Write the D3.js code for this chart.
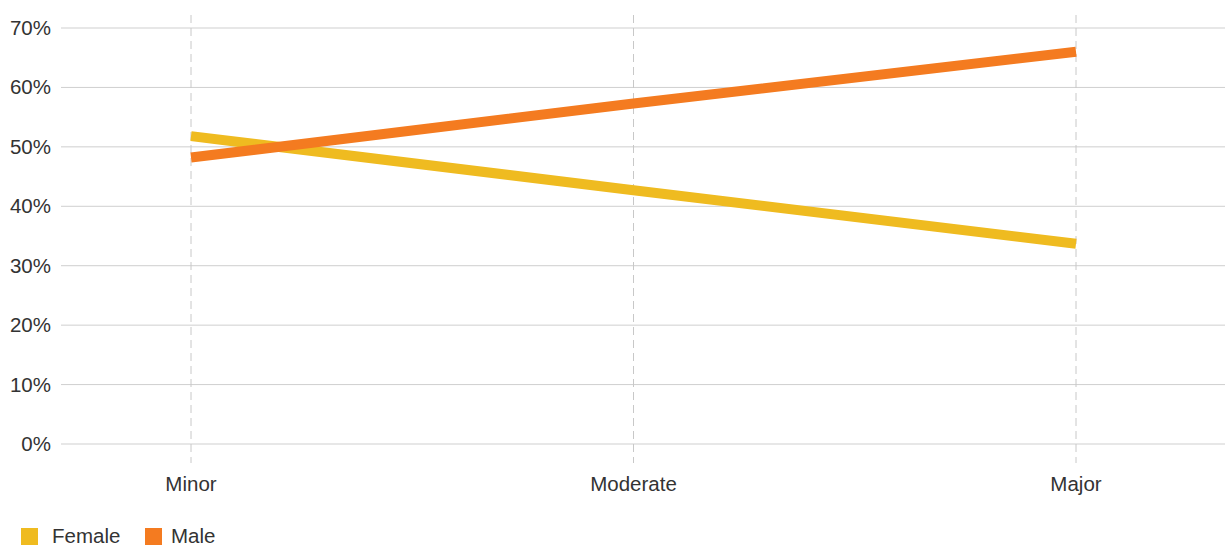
<!DOCTYPE html>
<html><head><meta charset="utf-8">
<script src="https://cdn.jsdelivr.net/npm/d3@7"></script>
<style>
body{margin:0;background:#fff;}
text{font-family:"Liberation Sans","Helvetica Neue",Arial,sans-serif;fill:#333;}
</style></head>
<body><svg id="c" width="1225" height="546"></svg>
<script>
const categories = ["Minor","Moderate","Major"];
const female = [51.8, 42.7, 33.7];
const male = [48.2, 57.3, 66.0];
const yTicks = [0,10,20,30,40,50,60,70];
const seriesNames = ["Female","Male"];
const colors = ["#EFBB20","#F47B20"];

const svg = d3.select("#c");
const x = d3.scalePoint().domain(categories).range([191,1076]);
const y = d3.scaleLinear().domain([0,70]).range([444,28]);

// horizontal grid
svg.append("g").selectAll("line").data(yTicks).join("line")
  .attr("x1",61).attr("x2",1225)
  .attr("y1",d=>y(d)).attr("y2",d=>y(d))
  .attr("stroke","#cfcfcf").attr("stroke-width",1);

// y labels
svg.append("g").selectAll("text").data(yTicks).join("text")
  .attr("x",51).attr("y",d=>y(d)+7)
  .attr("text-anchor","end").attr("font-size",20.5)
  .text(d=>d+"%");

// vertical dashed
svg.append("g").selectAll("line").data(categories).join("line")
  .attr("x1",d=>x(d)).attr("x2",d=>x(d))
  .attr("y1",15).attr("y2",463)
  .attr("stroke","#c8c8c8").attr("stroke-width",1)
  .attr("stroke-dasharray","8,5");

// x labels
svg.append("g").selectAll("text").data(categories).join("text")
  .attr("x",d=>x(d)).attr("y",491)
  .attr("text-anchor","middle").attr("font-size",20.5)
  .text(d=>d);

const line = d3.line().x((d,i)=>x(categories[i])).y(d=>y(d));
[female, male].forEach((s,i)=>{
  svg.append("path").datum(s).attr("d",line)
    .attr("fill","none").attr("stroke",colors[i]).attr("stroke-width",10);
});

// legend
const legX = [21,145];
const legTextX = [52,171];
seriesNames.forEach((n,i)=>{
  svg.append("rect").attr("x",legX[i]).attr("y",528).attr("width",17).attr("height",17).attr("fill",colors[i]);
  svg.append("text").attr("x",legTextX[i]).attr("y",543).attr("font-size",20.5).text(n);
});
</script></body></html>
